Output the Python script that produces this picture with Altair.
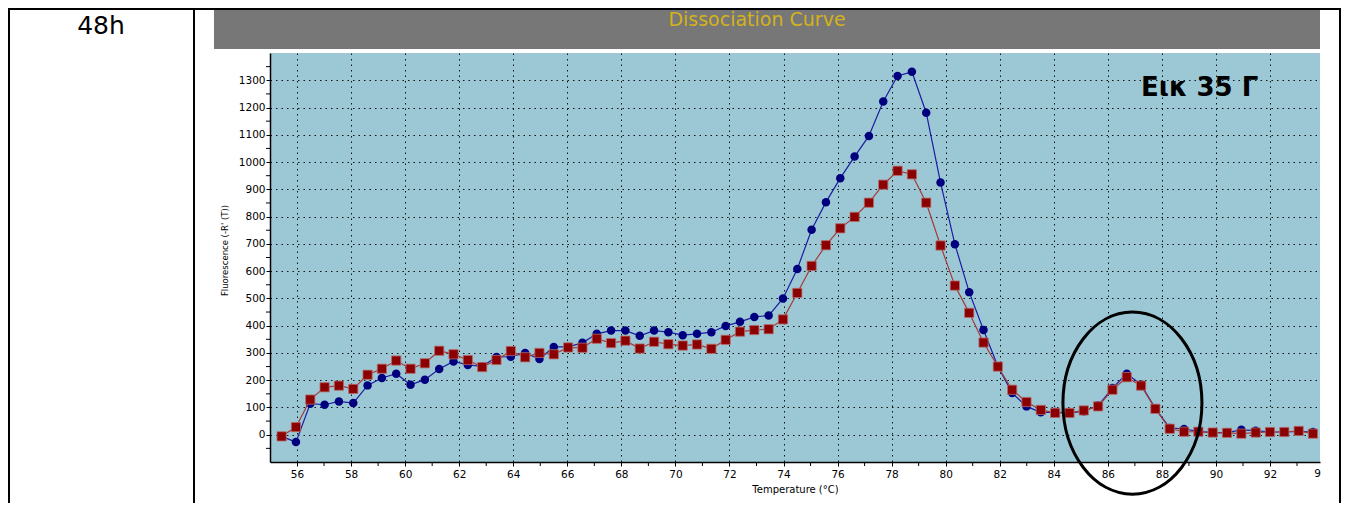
import altair as alt
import pandas as pd

# ---- data ----
temps = [55.43, 55.96, 56.49, 57.02, 57.55, 58.08, 58.61, 59.14, 59.67, 60.20,
         60.73, 61.26, 61.79, 62.32, 62.85, 63.38, 63.91, 64.44, 64.97, 65.50,
         66.03, 66.56, 67.09, 67.62, 68.15, 68.68, 69.21, 69.74, 70.27, 70.80,
         71.33, 71.86, 72.39, 72.92, 73.45, 73.98, 74.51, 75.04, 75.57, 76.10,
         76.63, 77.16, 77.69, 78.22, 78.75, 79.28, 79.81, 80.34, 80.87, 81.40,
         81.93, 82.46, 82.99, 83.52, 84.05, 84.58, 85.11, 85.64, 86.17, 86.70,
         87.23, 87.76, 88.29, 88.82, 89.35, 89.88, 90.41, 90.94, 91.47, 92.00,
         92.53, 93.06, 93.59]
blue = [-6, -27, 114, 110, 122, 116, 181, 208, 224, 183,
        202, 241, 269, 256, 251, 285, 286, 300, 278, 322,
        322, 337, 370, 382, 382, 363, 382, 376, 365, 370,
        376, 399, 414, 432, 437, 500, 608, 752, 853, 941,
        1020, 1096, 1222, 1316, 1331, 1181, 925, 699, 523, 384,
        251, 153, 104, 82, 83, 79, 86, 107, 171, 224,
        184, 96, 25, 21, 12, 8, 8, 18, 15, 10,
        10, 12, 10]
red = [-6, 28, 129, 174, 180, 168, 220, 242, 272, 242,
       262, 308, 295, 274, 248, 274, 307, 284, 300, 295,
       320, 319, 352, 336, 345, 316, 341, 332, 327, 331,
       315, 348, 378, 384, 387, 423, 520, 619, 695, 757,
       799, 851, 917, 968, 955, 851, 694, 547, 447, 338,
       250, 165, 120, 91, 80, 80, 89, 104, 165, 211,
       180, 95, 22, 11, 11, 8, 7, 4, 8, 10,
       10, 14, 4]
x_major = list(range(56, 93, 2))
x_minor = list(range(57, 94, 2))
y_major = list(range(0, 1301, 100))
y_minor = list(range(-50, 1400, 100))
ellipse_temp = [86.91]
ellipse_value = [116]

df = pd.DataFrame({"temp": temps, "blue": blue, "red": red})
ell = pd.DataFrame({"temp": ellipse_temp, "blue": ellipse_value})
one = pd.DataFrame({"k": [0]})

xscale = alt.Scale(domain=[55, 93.85], nice=False, zero=False)
yscale = alt.Scale(domain=[-100, 1400], nice=False, zero=False)

FONT = "DejaVu Sans"

x_axis = alt.Axis(
    values=x_major, format="d", labelOverlap=False, labelFlush=False,
    title="Temperature (°C)", titleFont=FONT, titleFontSize=10,
    titleFontWeight="normal", titleColor="black", titleY=27, titleBaseline="middle",
    grid=True, gridColor="black", gridDash=[1.5, 4], gridWidth=1, gridOpacity=0.9,
    tickSize=4, tickColor="black", domainColor="black", domainWidth=1.5,
    labelFont=FONT, labelFontSize=10.5, labelColor="black", labelPadding=3,
)
y_axis = alt.Axis(
    values=y_major, format="d", labelOverlap=False, labelFlush=False,
    title="Fluorescence (-R' (T))", titleFont=FONT, titleFontSize=8.5,
    titleFontWeight="normal", titleColor="black", titleAngle=270,
    titleX=-46, titleY=197, titleBaseline="middle", titleAlign="center",
    grid=True, gridColor="black", gridDash=[1.5, 4], gridWidth=1, gridOpacity=0.9,
    tickSize=4, tickColor="black", domainColor="black", domainWidth=1.5,
    labelFont=FONT, labelFontSize=10.5, labelColor="black", labelPadding=1,
)

X = alt.X("temp:Q", scale=xscale, axis=x_axis)
YB = alt.Y("blue:Q", scale=yscale, axis=y_axis)
YR = alt.Y("red:Q", scale=yscale, axis=y_axis)

base = alt.Chart(df)

blue_line = base.mark_line(color="#1c1ca0", strokeWidth=1.2).encode(x=X, y=YB)
blue_pts = base.mark_point(shape="circle", filled=True, size=72, color="#00007f",
                           opacity=1).encode(x=X, y=YB)
red_line = base.mark_line(color="#a33a3a", strokeWidth=1.2).encode(x=X, y=YR)
red_pts = base.mark_point(shape="square", filled=True, size=85, fill="#8b0000",
                          stroke="#b86a6a", strokeWidth=0.8, opacity=1).encode(x=X, y=YR)

# minor ticks (through the same scales)
x_minor_ticks = alt.Chart(pd.DataFrame({"temp": x_minor})).mark_rule(
    color="black", strokeWidth=1).encode(x=X, y=alt.value(409), y2=alt.value(413))
y_minor_ticks = alt.Chart(pd.DataFrame({"blue": y_minor})).mark_rule(
    color="black", strokeWidth=1).encode(y=YB, x=alt.value(-4), x2=alt.value(0))

ellipse_path = ("M 1 0 C 1 0.7235 0.5523 1.31 0 1.31 C -0.5523 1.31 -1 0.7235 -1 0 "
                "C -1 -0.7235 -0.5523 -1.31 0 -1.31 C 0.5523 -1.31 1 -0.7235 1 0 Z")
ellipse = alt.Chart(ell).mark_point(shape=ellipse_path, filled=False, size=19321,
                                    stroke="black", strokeWidth=3, opacity=1).encode(x=X, y=YB)

deco = alt.Chart(one)
header = deco.mark_rect(color="#777777").encode(
    x=alt.value(-56), x2=alt.value(1050), y=alt.value(-43), y2=alt.value(-4))
header_title = deco.mark_text(text="Dissociation Curve", font=FONT, fontSize=19,
                              color="#d4b21c", align="center", baseline="middle").encode(
    x=alt.value(487), y=alt.value(-33))
top_border = deco.mark_rule(color="black", strokeWidth=2).encode(
    x=alt.value(-262), x2=alt.value(1071), y=alt.value(-44))
left_border = deco.mark_rule(color="black", strokeWidth=2).encode(
    x=alt.value(-261), y=alt.value(-45), y2=alt.value(450))
mid_border = deco.mark_rule(color="black", strokeWidth=2).encode(
    x=alt.value(-76), y=alt.value(-45), y2=alt.value(450))
right_border = deco.mark_rule(color="black", strokeWidth=2).encode(
    x=alt.value(1070), y=alt.value(-45), y2=alt.value(450))
label_48h = deco.mark_text(text="48h", font=FONT, fontSize=25, color="black",
                           align="center", baseline="middle").encode(
    x=alt.value(-169), y=alt.value(-27))
label_fig = deco.mark_text(text="Εικ 35 Γ", font=FONT, fontSize=26, fontWeight="bold",
                           color="black", align="left", baseline="middle").encode(
    x=alt.value(871), y=alt.value(35))
cut_label = deco.mark_text(text="9", font=FONT, fontSize=10.5, color="black",
                           align="right", baseline="top").encode(
    x=alt.value(1051), y=alt.value(416))

chart = alt.layer(
    blue_line, blue_pts, red_line, red_pts, x_minor_ticks, y_minor_ticks, ellipse,
    header, header_title, top_border, left_border, mid_border, right_border,
    label_48h, label_fig, cut_label,
).properties(
    width=1050, height=409,
    autosize=alt.AutoSizeParams(type="none"),
    padding={"left": 262, "top": 45, "right": 21, "bottom": 41},
).configure_view(fill="#9cc8d6", strokeWidth=0)

chart.save("out.html", embed_options={"renderer": "svg", "actions": False})
